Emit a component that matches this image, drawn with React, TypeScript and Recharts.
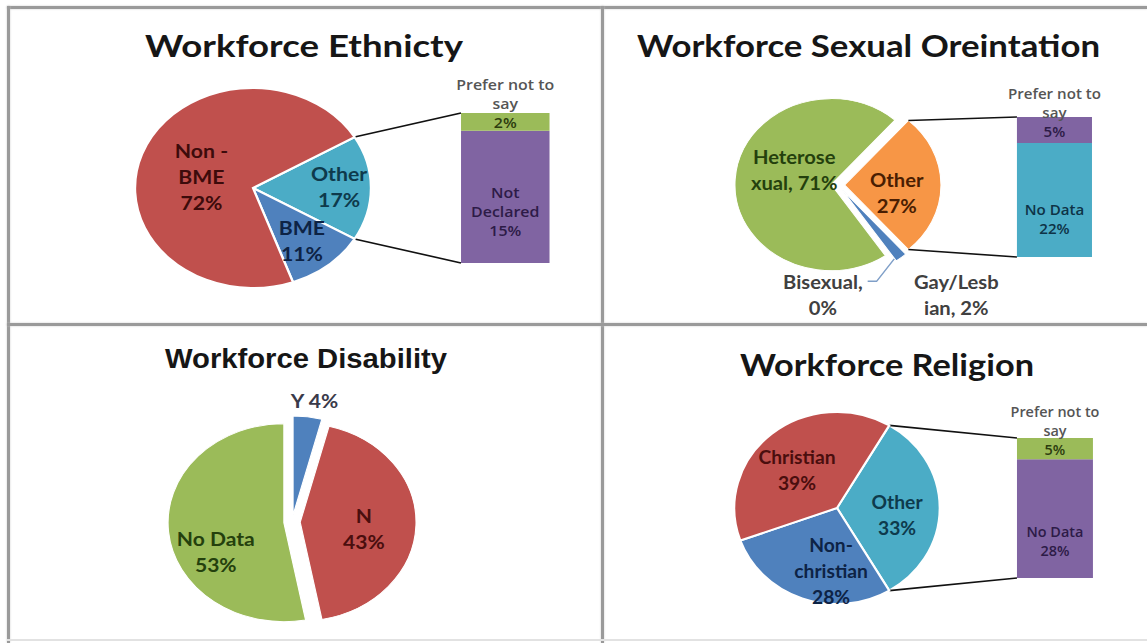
import React from 'react';
import { PieChart, Pie, Sector, BarChart, Bar, XAxis, YAxis, LabelList } from 'recharts';

// ---------------- Data ----------------
const ethnicityCategories = ['Other', 'BME', 'Non - BME'];
const ethnicityValues = [17, 11, 72];
const ethnicityLabelLines = [['Other', '17%'], ['BME', '11%'], ['Non -', 'BME', '72%']];
const ethnicityBarCategories = ['Not Declared', 'Prefer not to say'];
const ethnicityBarValues = [15, 2];
const ethnicityBarLabelLines = [['Not', 'Declared', '15%'], ['Prefer not to', 'say', '2%']];

const orientationCategories = ['Other', 'Gay/Lesbian', 'Bisexual', 'Heterosexual'];
const orientationValues = [27, 2, 0, 71];
const orientationLabelLines = [['Other', '27%'], ['Gay/Lesb', 'ian, 2%'], ['Bisexual,', '0%'], ['Heterose', 'xual, 71%']];
const orientationBarCategories = ['No Data', 'Prefer not to say'];
const orientationBarValues = [22, 5];
const orientationBarLabelLines = [['No Data', '22%'], ['Prefer not to', 'say', '5%']];

const disabilityCategories = ['Y', 'N', 'No Data'];
const disabilityValues = [4, 43, 53];
const disabilityLabelLines = [['Y 4%'], ['N', '43%'], ['No Data', '53%']];

const religionCategories = ['Other', 'Non-christian', 'Christian'];
const religionValues = [33, 28, 39];
const religionLabelLines = [['Other', '33%'], ['Non-', 'christian', '28%'], ['Christian', '39%']];
const religionBarCategories = ['No Data', 'Prefer not to say'];
const religionBarValues = [28, 5];
const religionBarLabelLines = [['No Data', '28%'], ['Prefer not to', 'say', '5%']];

const panelTitles = ['Workforce Ethnicty', 'Workforce Sexual Oreintation', 'Workforce Disability', 'Workforce Religion'];

// ---------------- Styles ----------------
const C = { red: '#C0504D', blue: '#4F81BD', teal: '#4BACC6', green: '#9BBB59', purple: '#8064A2', orange: '#F79646' };
const RAD = Math.PI / 180;

type BarCfg = {
  names: string[]; values: number[]; lines: string[][]; colors: string[]; textColors: string[];
  x: number; w: number; top: number; bottom: number; anchor: number[]; dy: number[];
};
type PanelCfg = {
  left: number; top: number; width: number; height: number; k: number;
  title: string; titleX: number; titleY: number; titleW: number; titleFont: string; titleSize: number;
  names: string[]; values: number[]; lines: string[][]; colors: string[]; textColors: string[];
  cx: number; cy: number; r: number; startAngle: number; strokeWidth: number; explode: number;
  labelPos: number[][]; leaderIndex?: number; bar?: BarCfg;
};

const panels: PanelCfg[] = [
  {
    left: 0, top: 0, width: 603, height: 325, k: 1.18,
    title: panelTitles[0], titleX: 304, titleY: 57, titleW: 318, titleFont: 'Lato', titleSize: 30,
    names: ethnicityCategories, values: ethnicityValues, lines: ethnicityLabelLines,
    colors: [C.teal, C.blue, C.red], textColors: ['#0e3a4c', '#0d2345', '#3d0b0b'],
    cx: 214.4, cy: 188, r: 100, startAngle: 30.6, strokeWidth: 2, explode: 0,
    labelPos: [[0.73, 0], [0.68, -2], [0.45, 6]],
    bar: {
      names: ethnicityBarCategories, values: ethnicityBarValues, lines: ethnicityBarLabelLines,
      colors: [C.purple, C.green], textColors: ['#2d1b47', '#2d3d0f'],
      x: 390.7, w: 74.6, top: 113, bottom: 263, anchor: [1, 2], dy: [15, 1],
    },
  },
  {
    left: 603, top: 0, width: 544, height: 325, k: 1.12,
    title: panelTitles[1], titleX: 265.5, titleY: 57, titleW: 463, titleFont: 'Lato', titleSize: 30,
    names: orientationCategories, values: orientationValues, lines: orientationLabelLines,
    colors: [C.orange, C.blue, C.red, C.green], textColors: ['#4a1e02', '#404040', '#404040', '#24400d'],
    cx: 209.8, cy: 185, r: 86, startAngle: 48.6, strokeWidth: 1, explode: 6,
    labelPos: [[0.55, -10.3], [1.71, 6.1], [1.24, -43.3], [0.42, -20.1]],
    leaderIndex: 2,
    bar: {
      names: orientationBarCategories, values: orientationBarValues, lines: orientationBarLabelLines,
      colors: [C.teal, C.purple], textColors: ['#0e3347', '#2d1b47'],
      x: 369.6, w: 67, top: 117, bottom: 257, anchor: [0, 2], dy: [10.5, 2.5],
    },
  },
  {
    left: 0, top: 325, width: 603, height: 318, k: 1.17,
    title: panelTitles[2], titleX: 306, titleY: 43, titleW: 282, titleFont: 'Liberation Sans', titleSize: 28,
    names: disabilityCategories, values: disabilityValues, lines: disabilityLabelLines,
    colors: [C.blue, C.red, C.green], textColors: ['#3a3a4a', '#4a0e0e', '#24400d'],
    cx: 249.6, cy: 197, r: 99, startAngle: 90, strokeWidth: 1, explode: 7,
    labelPos: [[1.16, -2], [0.555, -5.7], [0.66, 21.6]],
  },
  {
    left: 603, top: 325, width: 544, height: 318, k: 1.07,
    title: panelTitles[3], titleX: 284, titleY: 51, titleW: 294, titleFont: 'Lato', titleSize: 30,
    names: religionCategories, values: religionValues, lines: religionLabelLines,
    colors: [C.teal, C.blue, C.red], textColors: ['#0e3a4c', '#0d2345', '#4a0e0e'],
    cx: 218.7, cy: 183, r: 96, startAngle: 59.4, strokeWidth: 2, explode: 0,
    labelPos: [[0.59, -7.6], [0.66, 14.8], [0.555, 5]],
    bar: {
      names: religionBarCategories, values: religionBarValues, lines: religionBarLabelLines,
      colors: [C.purple, C.green], textColors: ['#2d1b47', '#2d3d0f'],
      x: 386.9, w: 71, top: 113, bottom: 253, anchor: [0, 2], dy: [13.5, 1.5],
    },
  },
];

const LABEL_SIZE = 18;
const LABEL_LH = 26;
const BAR_LABEL_SIZE = 13.5;
const BAR_LH = 19;

function explodeOffset(cfg: PanelCfg, mid: number) {
  return { ex: cfg.explode * Math.cos(mid * RAD), ey: -cfg.explode * Math.sin(mid * RAD) };
}

function makeSectorRenderer(cfg: PanelCfg) {
  return (p: any) => {
    const i = p.index;
    const { ex, ey } = explodeOffset(cfg, p.midAngle);
    const cx = p.cx + ex;
    const cy = p.cy + ey;
    const r = p.outerRadius;
    const parts: any[] = [
      <Sector key="s" cx={cx} cy={cy} innerRadius={0} outerRadius={r}
        startAngle={p.startAngle} endAngle={p.endAngle}
        fill={cfg.colors[i]} stroke="#ffffff" strokeWidth={cfg.strokeWidth} />,
    ];
    if (cfg.bar && i === 0) {
      const a1 = p.startAngle * RAD;
      const a2 = p.endAngle * RAD;
      parts.push(<line key="c1" x1={cx + r * Math.cos(a1)} y1={cy - r * Math.sin(a1)}
        x2={cfg.bar.x} y2={cfg.bar.top} stroke="#111" strokeWidth={1.6} />);
      parts.push(<line key="c2" x1={cx + r * Math.cos(a2)} y1={cy - r * Math.sin(a2)}
        x2={cfg.bar.x} y2={cfg.bar.bottom} stroke="#111" strokeWidth={1.6} />);
    }
    return <g key={`sec-${i}`}>{parts}</g>;
  };
}

function makeTextRenderer(cfg: PanelCfg) {
  return (p: any) => {
    const i = p.index;
    const { ex, ey } = explodeOffset(cfg, p.midAngle);
    const [f, da] = cfg.labelPos[i];
    const a = (p.midAngle + da) * RAD;
    const x = p.cx + ex + f * p.outerRadius * Math.cos(a);
    const y = p.cy + ey - f * p.outerRadius * Math.sin(a);
    const lines = cfg.lines[i];
    const y0 = y - ((lines.length - 1) * LABEL_LH) / 2;
    const parts: any[] = [
      <text key="t" textAnchor="middle" fontFamily="Lato" fontWeight={700} fontSize={LABEL_SIZE} fill={cfg.textColors[i]}>
        {lines.map((l, j) => (
          <tspan key={j} x={x} y={y0 + j * LABEL_LH + LABEL_SIZE * 0.36}>{l}</tspan>
        ))}
      </text>,
    ];
    if (cfg.leaderIndex === i) {
      const ma = p.midAngle * RAD;
      const tx = p.cx + ex + 0.97 * p.outerRadius * Math.cos(ma);
      const ty = p.cy + ey - 0.97 * p.outerRadius * Math.sin(ma);
      const sx = x + 40;
      const sy = y0 - 1;
      parts.push(<polyline key="l" points={`${sx},${sy} ${sx + 8},${sy} ${tx},${ty}`}
        fill="none" stroke="#7f9fc8" strokeWidth={1.3} />);
    }
    return <g key={`lab-${i}`}>{parts}</g>;
  };
}

function makeBarLabel(bar: BarCfg, idx: number) {
  return (props: any) => {
    const vb = props.viewBox && props.viewBox.width !== undefined ? props.viewBox : props;
    const x = Number(vb.x) + Number(vb.width) / 2;
    const yc = Number(vb.y) + Number(vb.height) / 2 + bar.dy[idx];
    const lines = bar.lines[idx];
    const anchor = bar.anchor[idx];
    const isTop = idx === bar.values.length - 1;
    return (
      <g>
        {lines.map((l, j) => (
          <text key={j} x={x} y={yc + (j - anchor) * BAR_LH + BAR_LABEL_SIZE * 0.36}
            textAnchor="middle" fontFamily="Open Sans" fontWeight={600} fontSize={BAR_LABEL_SIZE}
            fill={isTop && j < lines.length - 1 ? '#555555' : bar.textColors[idx]}>{l}</text>
        ))}
      </g>
    );
  };
}

function Panel({ cfg }: { cfg: PanelCfg }) {
  const dw = cfg.width / cfg.k;
  const pieData = cfg.names.map((n, i) => ({ name: n, value: cfg.values[i] }));
  const endAngle = cfg.startAngle - 360;
  let barChart: any = null;
  if (cfg.bar) {
    const bar = cfg.bar;
    const row: any = { name: 'bar' };
    bar.names.forEach((n, i) => { row[n] = bar.values[i]; });
    const total = bar.values.reduce((s, v) => s + v, 0);
    barChart = (
      <div style={{ position: 'absolute', left: 0, top: 0 }}>
        <BarChart width={dw} height={cfg.height} data={[row]} barCategoryGap={0}
          margin={{ top: bar.top, bottom: cfg.height - bar.bottom, left: bar.x, right: dw - bar.x - bar.w }}>
          <XAxis dataKey="name" hide />
          <YAxis type="number" domain={[0, total]} allowDataOverflow hide />
          {bar.names.map((n, i) => (
            <Bar key={n} dataKey={n} stackId="s" fill={bar.colors[i]} isAnimationActive={false}>
              <LabelList dataKey={n} content={makeBarLabel(bar, i)} />
            </Bar>
          ))}
        </BarChart>
      </div>
    );
  }
  return (
    <div style={{ position: 'absolute', left: cfg.left, top: cfg.top, width: cfg.width, height: cfg.height }}>
      <div style={{ position: 'absolute', left: 0, top: 0, width: dw, height: cfg.height,
        transform: `scaleX(${cfg.k})`, transformOrigin: '0 0' }}>
        <div style={{ position: 'absolute', left: 0, top: 0 }}>
          <PieChart width={dw} height={cfg.height} margin={{ top: 0, right: 0, bottom: 0, left: 0 }}>
            <Pie data={pieData} dataKey="value" nameKey="name" cx={cfg.cx} cy={cfg.cy}
              outerRadius={cfg.r} startAngle={cfg.startAngle} endAngle={endAngle}
              fill="transparent" stroke="none" isAnimationActive={false}
              labelLine={false} label={makeSectorRenderer(cfg)} />
            <Pie data={pieData} dataKey="value" nameKey="name" cx={cfg.cx} cy={cfg.cy}
              outerRadius={cfg.r} startAngle={cfg.startAngle} endAngle={endAngle}
              fill="transparent" stroke="none" isAnimationActive={false}
              labelLine={false} label={makeTextRenderer(cfg)} />
          </PieChart>
        </div>
        {barChart}
      </div>
      <svg width={cfg.width} height={cfg.height} style={{ position: 'absolute', left: 0, top: 0, pointerEvents: 'none' }}>
        <text x={cfg.titleX} y={cfg.titleY} textAnchor="middle" textLength={cfg.titleW}
          lengthAdjust="spacingAndGlyphs" fontFamily={cfg.titleFont} fontWeight={700}
          fontSize={cfg.titleSize} fill="#161616">{cfg.title}</text>
      </svg>
    </div>
  );
}

const lineStyle = (s: any) => ({
  position: 'absolute' as const, background: '#9a9a9a', boxShadow: '0 0 2px #c4c4c4', ...s,
});

export default function App() {
  return (
    <div style={{ position: 'absolute', left: 0, top: 0, width: 1147, height: 643, background: '#ffffff', overflow: 'hidden' }}>
      {panels.map((p, i) => <Panel key={i} cfg={p} />)}
      <div style={lineStyle({ left: 7, top: 6, width: 1140, height: 3 })} />
      <div style={lineStyle({ left: 7, top: 6, width: 3, height: 637 })} />
      <div style={lineStyle({ left: 601, top: 6, width: 3, height: 637 })} />
      <div style={lineStyle({ left: 7, top: 323, width: 1140, height: 3 })} />
      <div style={lineStyle({ left: 7, top: 639, width: 1140, height: 2, background: '#e2e2e2', boxShadow: 'none' })} />
    </div>
  );
}
